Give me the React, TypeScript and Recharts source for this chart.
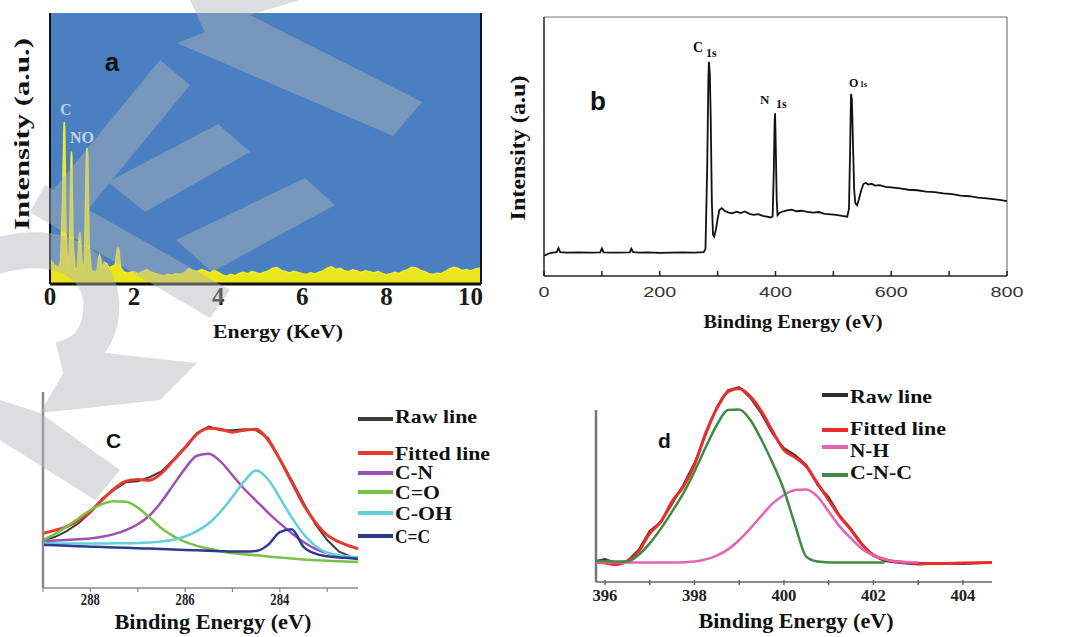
import React from 'react';
import {
  AreaChart,
  Area,
  LineChart,
  Line,
  XAxis,
  YAxis,
  CartesianGrid,
  ReferenceLine,
  Legend,
} from 'recharts';

const SERIF = '"Liberation Serif", "Times New Roman", serif';
const SANS = '"Liberation Sans", Arial, sans-serif';

// ---------- (a) EDS spectrum ----------
const edsEnergy = [
  0, 0.05, 0.1, 0.15, 0.2, 0.25, 0.3, 0.33, 0.34, 0.35,
  0.38, 0.42, 0.46, 0.5, 0.51, 0.52, 0.55, 0.6, 0.65, 0.69,
  0.71, 0.73, 0.77, 0.82, 0.86, 0.88, 0.9, 0.93, 0.98, 1.05,
  1.12, 1.16, 1.18, 1.2, 1.24, 1.3, 1.35, 1.4, 1.48, 1.55,
  1.6, 1.62, 1.64, 1.68, 1.75, 1.85, 1.95,
  2.0, 2.1, 2.2, 2.3, 2.4, 2.5, 2.6, 2.7, 2.8, 2.9,
  3.0, 3.1, 3.2, 3.3, 3.4, 3.5, 3.6, 3.7, 3.8, 3.9,
  4.0, 4.1, 4.2, 4.3, 4.4, 4.5, 4.6, 4.7, 4.8, 4.9,
  5.0, 5.1, 5.2, 5.3, 5.4, 5.5, 5.6, 5.7, 5.8, 5.9,
  6.0, 6.1, 6.2, 6.3, 6.4, 6.5, 6.6, 6.7, 6.8, 6.9,
  7.0, 7.1, 7.2, 7.3, 7.4, 7.5, 7.6, 7.7, 7.8, 7.9,
  8.0, 8.1, 8.2, 8.3, 8.4, 8.5, 8.6, 8.7, 8.8, 8.9,
  9.0, 9.1, 9.2, 9.3, 9.4, 9.5, 9.6, 9.7, 9.8, 9.9,
  10.0, 10.1, 10.2, 10.25,
];
const edsCounts = [
  9, 8, 7, 6.5, 6, 8, 32, 58, 59.8, 57,
  20, 6, 12, 46, 48.9, 47, 15, 5, 6, 17,
  19.2, 17, 5, 8, 45, 50.2, 48, 15, 5, 4.5,
  5, 10, 10.7, 9.5, 6, 8, 7.5, 6, 6.5, 7,
  13, 13.3, 12.5, 6, 4.5, 4, 4.5,
  4.5, 3.8, 4.6, 5.2, 4.4, 3.9, 3.4, 3.0, 3.6, 3.2,
  3.9, 3.5, 4.2, 5.6, 5.0, 4.6, 5.3, 4.8, 4.1, 5.0,
  4.4, 3.3, 2.9, 3.6, 3.1, 3.9, 4.3, 3.8, 4.6, 4.2,
  3.7, 4.4, 4.9, 5.8, 6.1, 5.0, 4.6, 4.1, 4.7, 4.3,
  3.8, 3.5, 4.1, 3.7, 4.4, 4.9, 5.9, 6.3, 5.4, 5.8,
  4.9, 4.5, 5.2, 4.8, 4.3, 4.9, 4.5, 4.1, 4.6, 3.9,
  3.4, 3.8, 4.3, 3.9, 4.7, 5.3, 6.2, 6.0, 5.1, 4.6,
  3.9, 3.5, 4.0, 3.8, 4.6, 5.6, 6.2, 5.8, 5.0, 5.3,
  4.8, 5.5, 5.9, 5.6,
];
const edsTicks = [0, 2, 4, 6, 8, 10];

// ---------- (b) XPS survey ----------
const surveyEnergy = [
  0, 8, 15, 22, 25, 28, 40, 60, 80, 97,
  100, 103, 120, 148, 151, 154, 165, 180, 200, 220,
  240, 260, 276, 279, 282, 284, 285, 286.5, 288, 290,
  292, 294, 297, 300, 303, 307, 312, 318, 325, 333,
  340, 347, 355, 362, 370, 378, 385, 392, 395, 397,
  398.5, 399.3, 400.5, 402, 403.5, 406, 412, 420, 428, 436,
  445, 455, 465, 475, 485, 495, 505, 515, 524, 527,
  529, 530.5, 532, 534, 536, 538, 541, 544, 548, 552,
  556, 560, 566, 572, 580, 590, 600, 615, 630, 645,
  660, 675, 690, 705, 720, 735, 750, 765, 780, 790,
  800,
];
const surveyCounts = [
  7.8, 8.6, 9.0, 9.2, 10.8, 9.2, 9.0, 9.1, 9.0, 9.1,
  10.6, 9.1, 9.0, 9.1, 10.5, 9.2, 9.0, 9.1, 8.9, 9.0,
  9.1, 9.0, 9.2, 10.5, 42, 76, 82.7, 78, 62, 29,
  16, 15.2, 17.8, 22, 25.5, 26.2, 25.2, 24.6, 24.2, 24.8,
  24.3, 24.9, 24.0, 23.6, 23.9, 23.2, 22.9, 22.6, 23.0, 40,
  60, 62.8, 50, 30, 23.5, 24.2, 24.9, 25.3, 25.6, 25.0,
  25.2, 24.8, 24.5, 24.7, 24.0, 23.8, 23.6, 23.2, 22.9, 26,
  50, 70.3, 68, 50, 33, 28, 27.3, 29.5, 33, 35.5,
  36.0, 35.3, 35.6, 34.9, 35.1, 34.4, 34.2, 33.8, 33.3, 33.1,
  32.6, 32.4, 31.9, 31.6, 31.0, 30.8, 30.3, 30.0, 29.6, 29.3,
  28.9,
];
const surveyTicks = [0, 100, 200, 300, 400, 500, 600, 700, 800];

// ---------- (c) C 1s ----------
const c1sEnergy = [
  289, 288.75, 288.5, 288.25, 288, 287.75, 287.5, 287.25, 287, 286.75,
  286.5, 286.25, 286, 285.75, 285.5, 285.25, 285, 284.75, 284.5, 284.25,
  284, 283.75, 283.5, 283.25, 283, 282.75, 282.5, 282.35,
];
const c1sRaw = [
  24.5, 26.0, 29.0, 33.0, 38.5, 45.5, 50.0, 54.0, 54.5, 56.5,
  59.5, 65.5, 72.0, 79.0, 82.3, 80.5, 80.5, 81.0, 80.5, 76.5,
  66.0, 55.0, 43.5, 32.5, 24.5, 18.5, 16.0, 15.5,
];
const c1sFit = [
  27.9, 29.4, 31.3, 34.5, 39.0, 45.0, 50.5, 54.5, 55.3, 55.0,
  58.5, 65.0, 71.5, 78.5, 81.5, 81.0, 79.5, 80.5, 81.0, 75.5,
  65.5, 54.0, 42.5, 33.5, 27.0, 23.5, 21.2, 20.0,
];
const c1sCN = [
  24.0, 24.2, 24.5, 24.9, 25.3, 26.2, 27.5, 29.5, 32.5, 37.0,
  44.0, 52.5, 61.0, 67.5, 68.5, 64.5, 57.5, 50.5, 44.5, 38.5,
  33.0, 28.0, 23.5, 20.0, 17.8, 16.5, 15.6, 15.2,
];
const c1sCO = [
  24.5, 27.5, 31.3, 35.5, 39.8, 42.8, 44.2, 44.0, 41.0, 36.0,
  30.5, 26.5, 23.5, 21.5, 20.0, 18.8, 17.8, 17.2, 16.7, 16.1,
  15.6, 15.1, 14.6, 14.2, 13.9, 13.6, 13.4, 13.3,
];
const c1sCOH = [
  22.9, 22.8, 22.7, 22.7, 22.7, 22.7, 22.8, 22.8, 22.9, 23.2,
  23.7, 24.6, 26.3, 29.0, 33.0, 39.0, 46.5, 54.5, 60.0, 55.5,
  46.0, 36.0, 27.5, 21.5, 18.0, 16.6, 16.0, 15.6,
];
const c1sCC = [
  22.0, 21.8, 21.6, 21.3, 21.1, 20.9, 20.7, 20.5, 20.3, 20.1,
  19.9, 19.7, 19.4, 19.2, 19.0, 18.8, 18.6, 18.6, 18.9, 22.0,
  28.5, 30.0, 21.0, 17.5, 16.2, 15.6, 15.2, 14.8,
];
const c1sTicks = [289, 288, 287, 286, 285, 284, 283];
const c1sMinorTicks = [
  0, 2.5, 5, 7.5, 10, 12.5, 15, 17.5, 20, 22.5, 25, 27.5, 30, 32.5, 35, 37.5, 40, 42.5, 45, 47.5, 50,
  52.5, 55, 57.5, 60, 62.5, 65, 67.5, 70, 72.5, 75, 77.5, 80, 82.5, 85, 87.5, 90, 92.5, 95, 97.5, 100,
];

// ---------- (d) N 1s ----------
const n1sEnergy = [
  395.8, 396, 396.25, 396.5, 396.75, 397, 397.25, 397.5, 397.75, 398,
  398.25, 398.5, 398.75, 399, 399.25, 399.5, 399.75, 400, 400.25, 400.5,
  400.75, 401, 401.25, 401.5, 401.75, 402, 402.25, 402.5, 403, 403.5,
  404, 404.65,
];
const n1sRaw = [
  10.5, 11.5, 9.5, 10.5, 16, 25.5, 30, 39, 48.5, 59.5,
  73.5, 87.5, 96, 97.5, 92, 84, 74, 67, 63.5, 58.5,
  48.5, 42.5, 33, 26.5, 19, 13, 10.5, 9.8, 8.8, 9.2,
  9.0, 9.7,
];
const n1sFit = [
  10, 9.5, 8.7, 10.5, 15.2, 24.3, 30.2, 40.2, 47.7, 58.5,
  74.3, 86.8, 95.2, 96.8, 92.7, 85.2, 75.2, 66, 62.3, 57.7,
  49.3, 41, 32.7, 26, 18.5, 13.5, 11.3, 10.2, 9.3, 9.3,
  9.5, 9.7,
];
const n1sNH = [
  9.8, 9.8, 9.8, 9.8, 9.8, 9.8, 9.8, 9.8, 9.9, 10.2,
  11.3, 13.2, 16.3, 21, 26.8, 33.2, 39.3, 43.5, 46, 46.3,
  42.7, 35.2, 27.7, 21.8, 16.5, 13.2, 11.3, 10.2, 9.8, null,
  null, null,
];
const n1sCNC = [
  10.5, 10.5, 10.3, 10.3, 13.5, 19.3, 26.7, 35.2, 44.3, 55.2,
  67.3, 78.5, 86, 86.3, 81, 71, 59.3, 46, 28.5, 12.7,
  10.2, 9.8, 9.8, 9.8, 9.8, 9.8, 9.8, null, null, null,
  null, null,
];
const n1sTicks = [396, 397, 398, 399, 400, 401, 402, 403, 404];

// ---------- tables for recharts ----------
const edsData = edsEnergy.map((e, i) => ({ e, v: edsCounts[i] }));
const surveyData = surveyEnergy.map((e, i) => ({ e, v: surveyCounts[i] }));
const c1sData = c1sEnergy.map((e, i) => ({
  e, raw: c1sRaw[i], fit: c1sFit[i], cn: c1sCN[i], co: c1sCO[i], coh: c1sCOH[i], cc: c1sCC[i],
}));
const n1sData = n1sEnergy.map((e, i) => ({
  e, raw: n1sRaw[i], fit: n1sFit[i], nh: n1sNH[i], cnc: n1sCNC[i],
}));

const c1sSeries = [
  { key: 'raw', name: 'Raw line', color: '#3c3c3c', width: 2, curve: 'linear' },
  { key: 'fit', name: 'Fitted line', color: '#e8392e', width: 3, curve: 'monotone' },
  { key: 'cn', name: 'C-N', color: '#9b4fb7', width: 2.5, curve: 'monotone' },
  { key: 'co', name: 'C=O', color: '#78c245', width: 2.5, curve: 'monotone' },
  { key: 'coh', name: 'C-OH', color: '#63cfd9', width: 2.5, curve: 'monotone' },
  { key: 'cc', name: 'C=C', color: '#2c3a8f', width: 2.5, curve: 'monotone' },
];
const n1sSeries = [
  { key: 'raw', name: 'Raw line', color: '#2e2e2e', width: 2, curve: 'linear' },
  { key: 'fit', name: 'Fitted line', color: '#ee2b2b', width: 3, curve: 'monotone' },
  { key: 'nh', name: 'N-H', color: '#e563b3', width: 2.5, curve: 'monotone' },
  { key: 'cnc', name: 'C-N-C', color: '#3f8a43', width: 2.5, curve: 'monotone' },
];

// legend row layout (local to the legend box)
const c1sLegendRows = [
  { textY: 23, lineY: 19, w: 82 },
  { textY: 60, lineY: 53, w: 95 },
  { textY: 79, lineY: 73, w: 38 },
  { textY: 99, lineY: 92, w: 45 },
  { textY: 120, lineY: 113, w: 57 },
  { textY: 143, lineY: 136, w: 35 },
];
const n1sLegendRows = [
  { textY: 23, lineY: 15, w: 82 },
  { textY: 55, lineY: 50, w: 96 },
  { textY: 77, lineY: 67, w: 39 },
  { textY: 99, lineY: 95, w: 62 },
];

const makeLegend = (series: any[], rows: any[], x1: number, x2: number, tx: number) => () => (
  <svg width={200} height={170} style={{ overflow: 'visible' }}>
    {series.map((s, i) => (
      <g key={s.key}>
        <line x1={x1} x2={x2} y1={rows[i].lineY} y2={rows[i].lineY} stroke={s.color} strokeWidth={4} />
        <text
          transform={`translate(${tx},${rows[i].textY}) scale(1,0.86)`}
          fontFamily={SERIF}
          fontWeight={700}
          fontSize={21}
          fill="#111"
          textLength={rows[i].w}
          lengthAdjust="spacingAndGlyphs"
        >
          {s.name}
        </text>
      </g>
    ))}
  </svg>
);

// ---------- ticks ----------
const EdsTick = (p: any) => (
  <text x={p.x} y={p.y + 21} textAnchor="middle" fontFamily={SERIF} fontWeight={700} fontSize={25} fill="#1a1a1a">
    {p.payload.value}
  </text>
);

const SurveyTick = (p: any) => (
  <g>
    <line x1={p.x} x2={p.x} y1={p.y} y2={p.y - 5} stroke="#222" strokeWidth={1.5} />
    {p.payload.value % 200 === 0 && (
      <text
        x={p.x}
        y={p.y + 21}
        textAnchor="middle"
        fontFamily={SANS}
        fontSize={15}
        fill="#333"
        textLength={p.payload.value === 0 ? 11 : 33}
        lengthAdjust="spacingAndGlyphs"
      >
        {p.payload.value}
      </text>
    )}
  </g>
);

const C1sTick = (p: any) => (
  <g>
    <line x1={p.x} x2={p.x} y1={p.y} y2={p.y + 4} stroke="#888" strokeWidth={1.2} />
    {p.payload.value % 2 === 0 && (
      <text
        x={p.x}
        y={p.y + 17}
        textAnchor="middle"
        fontFamily={SERIF}
        fontWeight={700}
        fontSize={17}
        fill="#222"
        textLength={19}
        lengthAdjust="spacingAndGlyphs"
      >
        {p.payload.value}
      </text>
    )}
  </g>
);

const N1sTick = (p: any) => (
  <g>
    <line x1={p.x} x2={p.x} y1={p.y - 2} y2={p.y + 3} stroke="#666" strokeWidth={1.5} />
    {p.payload.value % 2 === 0 && (
      <text
        x={p.x}
        y={p.y + 19}
        textAnchor="middle"
        fontFamily={SERIF}
        fontWeight={700}
        fontSize={17}
        fill="#222"
        textLength={25}
        lengthAdjust="spacingAndGlyphs"
      >
        {p.payload.value}
      </text>
    )}
  </g>
);

const bold = { fontFamily: SERIF, fontWeight: 700, fill: '#111' } as const;
const letter = { fontFamily: SANS, fontWeight: 700, fill: '#111' } as const;

// axes take 30px (x) / 10px (y) out of the margin
const AX_H = 30;
const AX_W = 10;

export default function App() {
  return (
    <div style={{ position: 'absolute', left: 0, top: 0, width: 1070, height: 637, background: '#fff', overflow: 'hidden' }}>
      {/* (a) EDS */}
      <div style={{ position: 'absolute', left: 0, top: 0 }}>
        <AreaChart width={500} height={350} data={edsData} margin={{ top: 13, right: 19, bottom: 66 - AX_H, left: 50 - AX_W }}>
          <CartesianGrid fill="#4a7fc1" horizontal={false} vertical={false} />
          <XAxis
            dataKey="e"
            type="number"
            domain={[0, 10.25]}
            ticks={edsTicks}
            interval={0}
            height={AX_H}
            tickSize={0}
            tickMargin={0}
            tickLine={false}
            axisLine={{ stroke: '#111', strokeWidth: 3 }}
            tick={EdsTick}
          />
          <YAxis type="number" domain={[0, 100]} width={AX_W} tick={false} tickLine={false} axisLine={{ stroke: '#111', strokeWidth: 2 }} />
          <Area
            type="linear"
            dataKey="v"
            stroke="#f1ed2a"
            strokeWidth={1.5}
            fill="#e9e61e"
            fillOpacity={1}
            isAnimationActive={false}
          />
          <ReferenceLine x={10.25} stroke="#111" strokeWidth={2} />
        </AreaChart>
      </div>

      {/* (b) XPS survey */}
      <div style={{ position: 'absolute', left: 500, top: 0 }}>
        <LineChart width={570} height={340} data={surveyData} margin={{ top: 17, right: 63, bottom: 64 - AX_H, left: 44 - AX_W }}>
          <XAxis
            dataKey="e"
            type="number"
            domain={[0, 800]}
            ticks={surveyTicks}
            interval={0}
            height={AX_H}
            tickSize={0}
            tickMargin={0}
            tickLine={false}
            axisLine={{ stroke: '#222', strokeWidth: 1.5 }}
            tick={SurveyTick}
          />
          <YAxis type="number" domain={[0, 100]} width={AX_W} tick={false} tickLine={false} axisLine={{ stroke: '#222', strokeWidth: 1.5 }} />
          <ReferenceLine y={100} stroke="#777" strokeWidth={1.2} />
          <ReferenceLine x={800} stroke="#777" strokeWidth={1.2} />
          <Line type="linear" dataKey="v" stroke="#111" strokeWidth={1.8} dot={false} isAnimationActive={false} />
        </LineChart>
      </div>

      {/* (c) C 1s */}
      <div style={{ position: 'absolute', left: 0, top: 370 }}>
        <LineChart width={540} height={267} data={c1sData} margin={{ top: 22, right: 182, bottom: 49 - AX_H, left: 43 - AX_W }}>
          <XAxis
            dataKey="e"
            type="number"
            domain={[282.35, 289]}
            reversed
            ticks={c1sTicks}
            interval={0}
            height={AX_H}
            tickSize={0}
            tickMargin={0}
            tickLine={false}
            axisLine={{ stroke: '#888', strokeWidth: 1.5 }}
            tick={C1sTick}
          />
          <YAxis
            type="number"
            domain={[0, 100]}
            ticks={c1sMinorTicks}
            interval={0}
            width={AX_W}
            tick={false}
            tickSize={3}
            tickLine={{ stroke: '#999', strokeWidth: 1 }}
            axisLine={{ stroke: '#8a8a8a', strokeWidth: 2.5 }}
          />
          {c1sSeries.map((s) => (
            <Line
              key={s.key}
              type={s.curve as any}
              dataKey={s.key}
              name={s.name}
              stroke={s.color}
              strokeWidth={s.width}
              dot={false}
              isAnimationActive={false}
            />
          ))}
          <Legend
            layout="vertical"
            align="center"
            verticalAlign="middle"
            wrapperStyle={{ left: 350, top: 30, width: 190, height: 170 }}
            content={makeLegend(c1sSeries, c1sLegendRows, 8, 43, 45)}
          />
        </LineChart>
      </div>

      {/* (d) N 1s */}
      <div style={{ position: 'absolute', left: 560, top: 370 }}>
        <LineChart width={510} height={267} data={n1sData} margin={{ top: 12, right: 78, bottom: 55 - AX_H, left: 36 }}>
          <XAxis
            dataKey="e"
            type="number"
            domain={[395.8, 404.65]}
            ticks={n1sTicks}
            interval={0}
            height={AX_H}
            tickSize={0}
            tickMargin={0}
            tickLine={false}
            axisLine={{ stroke: '#666', strokeWidth: 1.5 }}
            tick={N1sTick}
          />
          <YAxis type="number" domain={[0, 100]} hide />
          <ReferenceLine segment={[{ x: 395.8, y: 0 }, { x: 395.8, y: 86 }]} stroke="#777" strokeWidth={2.5} />
          {n1sSeries.map((s) => (
            <Line
              key={s.key}
              type={s.curve as any}
              dataKey={s.key}
              name={s.name}
              stroke={s.color}
              strokeWidth={s.width}
              dot={false}
              isAnimationActive={false}
            />
          ))}
          <Legend
            layout="vertical"
            align="center"
            verticalAlign="middle"
            wrapperStyle={{ left: 250, top: 10, width: 200, height: 170 }}
            content={makeLegend(n1sSeries, n1sLegendRows, 12, 38, 40)}
          />
        </LineChart>
      </div>

      {/* titles, panel letters, peak labels, watermark */}
      <svg width={1070} height={637} style={{ position: 'absolute', left: 0, top: 0, pointerEvents: 'none' }}>
        {/* (a) */}
        <text x={112} y={71} textAnchor="middle" fontSize={26} {...letter}>a</text>
        <text x={60} y={115} fontFamily={SERIF} fontWeight={700} fontSize={16} fill="#bcd0e6">C</text>
        <text x={70} y={143} fontFamily={SERIF} fontWeight={700} fontSize={16} fill="#c6d4e4">NO</text>
        <text transform="translate(29,134) rotate(-90)" textAnchor="middle" fontSize={21} textLength={192} lengthAdjust="spacingAndGlyphs" {...bold}>
          Intensity (a.u.)
        </text>
        <text x={278} y={338} textAnchor="middle" fontSize={19} textLength={130} lengthAdjust="spacingAndGlyphs" {...bold}>
          Energy (KeV)
        </text>

        {/* (b) */}
        <text x={598} y={110} textAnchor="middle" fontSize={26} {...letter}>b</text>
        <text x={693} y={52} fontSize={14} {...bold}>C</text>
        <text x={706} y={57} fontSize={12} {...bold}>1s</text>
        <text x={760} y={104} fontSize={13} {...bold}>N</text>
        <text x={776} y={108} fontSize={12} {...bold}>1s</text>
        <text x={849} y={87} fontSize={12} {...bold}>O</text>
        <text x={860} y={87} fontSize={8} {...bold}>1s</text>
        <text transform="translate(525,148) rotate(-90)" textAnchor="middle" fontSize={20} textLength={145} lengthAdjust="spacingAndGlyphs" {...bold}>
          Intensity (a.u)
        </text>
        <text x={793} y={328} textAnchor="middle" fontSize={19} textLength={179} lengthAdjust="spacingAndGlyphs" {...bold}>
          Binding Energy (eV)
        </text>

        {/* (c) */}
        <text x={106} y={448} fontSize={21} {...letter}>C</text>
        <text x={213} y={629} textAnchor="middle" fontSize={22} textLength={197} lengthAdjust="spacingAndGlyphs" {...bold}>
          Binding Energy (eV)
        </text>

        {/* (d) */}
        <text x={658} y={448} fontSize={21} {...letter}>d</text>
        <text x={796} y={628} textAnchor="middle" fontSize={22} textLength={195} lengthAdjust="spacingAndGlyphs" {...bold}>
          Binding Energy (eV)
        </text>

        {/* watermark */}
        <g fill="#b0b4ba" stroke="#b0b4ba" opacity={0.45}>
          <polygon strokeWidth={0} points="45,200 160,60 190,85 75,225" />
          <polygon strokeWidth={0} points="108,182 218,124 250,152 145,212" />
          <polygon strokeWidth={0} points="176,240 305,178 335,205 212,272" />
          <polygon strokeWidth={0} points="45,185 230,290 210,318 30,212" />
          <polygon strokeWidth={0} points="177,43 250,15 422,102 393,136" />
          <polygon strokeWidth={0} points="190,0 300,0 250,15 205,33" />
          <path d="M -10 258 C 60 235 110 265 100 320 C 95 345 80 355 60 360" fill="none" strokeWidth={36} />
          <polygon strokeWidth={0} points="77,350 197,363 160,400 40,413" />
          <polygon strokeWidth={0} points="0,400 40,413 120,470 95,500 0,440" />
        </g>
      </svg>
    </div>
  );
}
